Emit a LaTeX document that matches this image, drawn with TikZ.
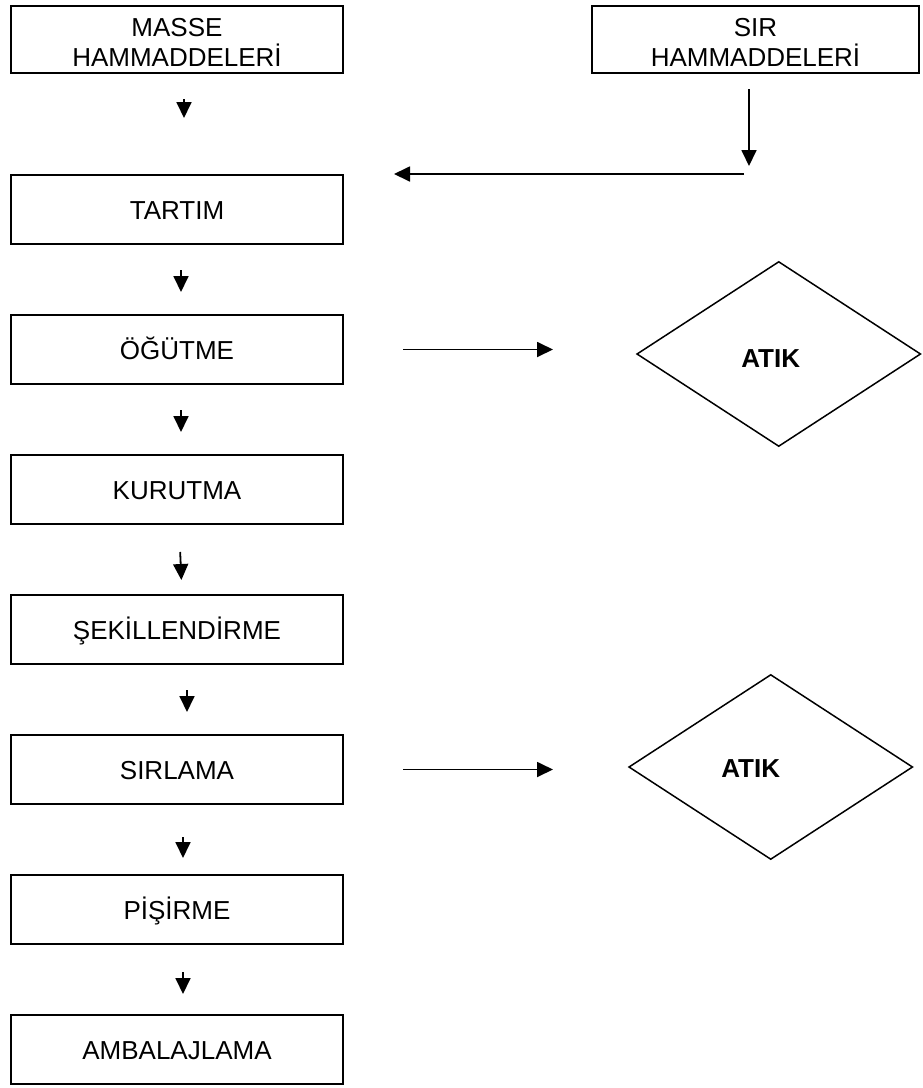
\documentclass[tikz,border=0pt]{standalone}
\usepackage{fontspec}
\setmainfont{Liberation Sans}
\usepackage{tikz}
\usetikzlibrary{arrows.meta,positioning,shapes.geometric}
\tikzset{>/.tip={Triangle[length=16pt,width=15pt]}}
\tikzset{stage/.style={draw,line width=2pt,minimum width=332pt,minimum height=69pt,inner sep=0pt,text height=19pt,text depth=0pt}}
\tikzset{source/.style={draw,line width=2pt,minimum width=332pt,minimum height=67pt,inner sep=0pt,align=center}}
\tikzset{waste/.style={draw,diamond,line width=1.5pt,minimum width=284pt,minimum height=185pt,inner sep=0pt}}
\tikzset{flow/.style={->,line width=1.8pt}}
\begin{document}
\begin{tikzpicture}[node distance=69pt,node font=\fontsize{26pt}{30.5pt}\selectfont]
  \useasboundingbox (0,0) rectangle (922pt,-1088pt);
  \node(masse)[source] at (177pt,-39.5pt){\rule{0pt}{24pt}MASSE\\HAMMADDELERİ};
  \node(sir)[source,minimum width=327pt,right=247pt of masse]{\rule{0pt}{24pt}SIR\\HAMMADDELERİ};
  \node(tartim)[stage,below=100pt of masse]{TARTIM};
  \node(ogutme)[stage,below=of tartim]{ÖĞÜTME};
  \node(kurutma)[stage,below=of ogutme]{KURUTMA};
  \node(sekil)[stage,below=of kurutma]{ŞEKİLLENDİRME};
  \node(sirlama)[stage,below=of sekil]{SIRLAMA};
  \node(pisirme)[stage,below=of sirlama]{PİŞİRME};
  \node(ambalaj)[stage,below=of pisirme]{AMBALAJLAMA};
  \node(atik1)[waste,right=292pt of ogutme,yshift=-4.5pt,
    label={[xshift=-8pt,yshift=-5pt,font=\bfseries]center:ATIK}]{};
  \node(atik2)[waste,right=284pt of sirlama,yshift=2.5pt,
    label={[xshift=-20pt,yshift=-2pt,font=\bfseries]center:ATIK}]{};
  \coordinate(merge) at ([xshift=-6.5pt]sir.south |- tartim.north);
  \path[flow]
   ([xshift=7pt]masse.south) edge[shorten <=25pt,shorten >=56pt] ([xshift=7pt]tartim.north)
   ([xshift=4pt]tartim.south) edge[shorten <=25pt,shorten >=22pt] ([xshift=4pt]ogutme.north)
   ([xshift=4pt]ogutme.south) edge[shorten <=25pt,shorten >=22pt] ([xshift=4pt]kurutma.north)
   ([xshift=2pt]kurutma.south) edge[shorten <=27pt,shorten >=14pt] ([xshift=5pt]sekil.north)
   ([xshift=10pt]sekil.south) edge[shorten <=25pt,shorten >=22pt] ([xshift=10pt]sirlama.north)
   ([xshift=6pt]sirlama.south) edge[shorten <=32pt,shorten >=16pt] ([xshift=6pt]pisirme.north)
   ([xshift=6pt]pisirme.south) edge[shorten <=27pt,shorten >=20pt] ([xshift=6pt]ambalaj.north);
  \path[flow]
   ([xshift=-6.5pt]sir.south) edge[shorten <=15pt,shorten >=8pt] (merge)
   (merge) edge[shorten <=5pt,shorten >=50pt] (tartim.north east)
   (ogutme.east) edge[shorten <=59pt,shorten >=83pt] (ogutme.east -| atik1.west)
   (sirlama.east) edge[shorten <=59pt,shorten >=75pt] (sirlama.east -| atik2.west);
\end{tikzpicture}
\end{document}
